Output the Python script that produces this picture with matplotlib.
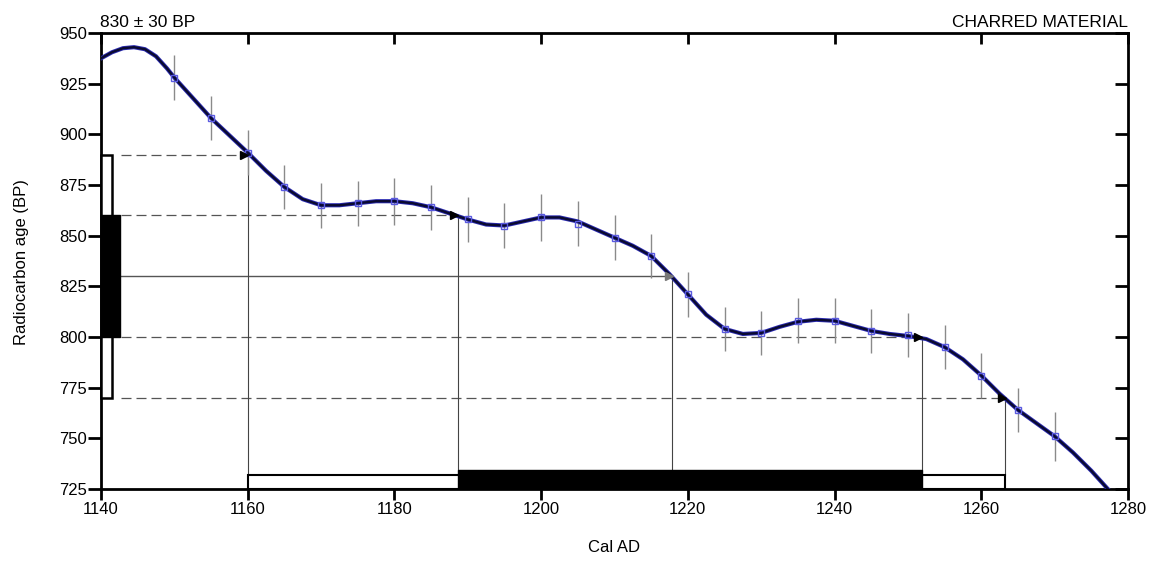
import matplotlib
matplotlib.use("Agg")
import matplotlib.pyplot as plt
import matplotlib.lines as mlines
from matplotlib.patches import Rectangle

plt.rcParams['font.family'] = ['Liberation Sans', 'DejaVu Sans']

# Calibration curve
curve_x = [1140, 1141.5, 1143, 1144.5, 1146, 1147.5, 1149, 1150, 1152.5, 1155, 1157.5, 1160,
           1162.5, 1165, 1167.5, 1170, 1172.5, 1175, 1177.5, 1180, 1182.5, 1185, 1187.5, 1190,
           1192.5, 1195, 1197.5, 1200, 1202.5, 1205, 1207.5, 1210, 1212.5, 1215, 1217.5, 1220,
           1222.5, 1225, 1227.5, 1230, 1232.5, 1235, 1237.5, 1240, 1242.5, 1245, 1247.5, 1250,
           1252.5, 1255, 1257.5, 1260, 1262.5, 1265, 1267.5, 1270, 1272.5, 1275, 1277.5]
curve_y = [937.5, 940.5, 942.5, 943, 942, 938.5, 932.5, 928, 918, 908, 899.5, 891,
           882, 874, 868, 865, 865, 866, 867, 867, 866, 864, 861, 858,
           855.5, 855, 857, 859, 859, 857, 853, 849, 845, 840, 831, 821,
           811, 804, 801.5, 802, 805, 807.5, 808.5, 808, 805.5, 803, 801.5, 800.5,
           799, 795, 789, 781, 772, 764, 757.5, 751, 743, 734, 724]

# Calibration data points with errors
pts_x = [1150, 1155, 1160, 1165, 1170, 1175, 1180, 1185, 1190, 1195, 1200, 1205, 1210,
         1215, 1220, 1225, 1230, 1235, 1240, 1245, 1250, 1255, 1260, 1265, 1270]
pts_y = [928, 908, 891, 874, 865, 866, 867, 864, 858, 855, 859, 856, 849,
         840, 821, 804, 802, 808, 808, 803, 801, 795, 781, 764, 751]
pts_err = [11, 11, 11, 11, 11, 11, 11.5, 11, 11, 11, 11.5, 11, 11,
           11, 11, 11, 11, 11, 11, 11, 11, 11, 11, 11, 12]

# Sample: 830 +/- 30 BP; 1 and 2 sigma ranges
sample_age = 830
age_levels = [890, 860, 830, 800, 770]
intercepts = [1160.0, 1188.6, 1217.9, 1251.9, 1263.3]
one_sigma_age = (800, 860)
two_sigma_age = (770, 890)
one_sigma_cal = (1188.6, 1251.9)
two_sigma_cal = (1160.0, 1263.3)

xticks = [1140, 1160, 1180, 1200, 1220, 1240, 1260, 1280]
yticks = [725, 750, 775, 800, 825, 850, 875, 900, 925, 950]

fig = plt.figure(figsize=(11.52, 5.76), dpi=100)
ax = fig.add_axes([101/1152, 1-489/576, 1027/1152, 456/576])
ax.set_xlim(1140, 1280)
ax.set_ylim(725, 950)

# curve
ax.plot(curve_x, curve_y, color='#2a2ab0', lw=3.0, zorder=4, solid_joinstyle='round')
ax.plot(curve_x, curve_y, color='#0a0a30', lw=1.7, zorder=5, solid_joinstyle='round')
ax.errorbar(pts_x, pts_y, yerr=pts_err, fmt='none', ecolor='#8a8a8a', elinewidth=1.0, zorder=3)
ax.plot(pts_x, pts_y, ls='none', marker='s', ms=5, mfc='none', mec='#5a5ae0', mew=1.0, zorder=6)

# horizontal lines from age levels to curve
x_start = 1142.7
for a, c in zip(age_levels, intercepts):
    if a == sample_age:
        ax.plot([x_start, c], [a, a], color='#555555', lw=1.0, zorder=2)
        ax.plot([c - 0.5], [a], marker='>', ms=6, color='#777777', zorder=7)
    else:
        ax.plot([x_start, c], [a, a], color='#555555', lw=0.9, dashes=(8, 4), zorder=2)
        ax.plot([c - 0.5], [a], marker='>', ms=6, color='black', zorder=7)

# vertical lines from intercepts to the bars
bar_top_two = 731.9
bar_top_one = 734.4
for a, c in zip(age_levels, intercepts):
    ytop = bar_top_one if (c in one_sigma_cal or a == sample_age) else bar_top_two
    ax.plot([c, c], [ytop, a], color='#444444', lw=0.8, zorder=2)

# bottom bars
ax.add_patch(Rectangle((two_sigma_cal[0], 725), two_sigma_cal[1]-two_sigma_cal[0], bar_top_two-725,
                       facecolor='white', edgecolor='black', lw=1.5, zorder=3))
ax.add_patch(Rectangle((one_sigma_cal[0], 725), one_sigma_cal[1]-one_sigma_cal[0], bar_top_one-725,
                       facecolor='black', edgecolor='black', lw=1.0, zorder=4))

# left bars
ax.add_patch(Rectangle((1140, two_sigma_age[0]), 1.5, two_sigma_age[1]-two_sigma_age[0],
                       facecolor='white', edgecolor='black', lw=1.8, zorder=3, clip_on=False))
ax.add_patch(Rectangle((1140, one_sigma_age[0]), 2.6, one_sigma_age[1]-one_sigma_age[0],
                       facecolor='black', edgecolor='black', lw=1.0, zorder=4, clip_on=False))

# axes styling
for s in ax.spines.values():
    s.set_linewidth(2.0)
ax.set_xticks(xticks)
ax.set_yticks(yticks)
ax.tick_params(axis='x', length=7.7, width=2, labelsize=12, direction='out', pad=2, top=True)
ax.tick_params(axis='y', length=9.5, width=2, labelsize=12, direction='out', pad=0.5, right=True)
for t in ax.xaxis.get_major_ticks():
    t.tick2line.set_marker(mlines.TICKDOWN)
for t in ax.yaxis.get_major_ticks():
    t.tick2line.set_marker(mlines.TICKLEFT)
ax.set_xticklabels([str(v) for v in xticks])
ax.set_yticklabels([str(v) for v in yticks])

ax.text(-0.001, 1.006, '830 ± 30 BP', transform=ax.transAxes, ha='left', va='bottom', fontsize=12.5)
ax.text(1.0, 1.006, 'CHARRED MATERIAL', transform=ax.transAxes, ha='right', va='bottom', fontsize=12.5)

fig.text(22/1152, 1-262/576, 'Radiocarbon age (BP)', rotation=90, ha='center', va='center', fontsize=12)
fig.text(614/1152, 1-548/576, 'Cal AD', ha='center', va='center', fontsize=12)

fig.savefig('out.png', dpi=100, facecolor='white')
